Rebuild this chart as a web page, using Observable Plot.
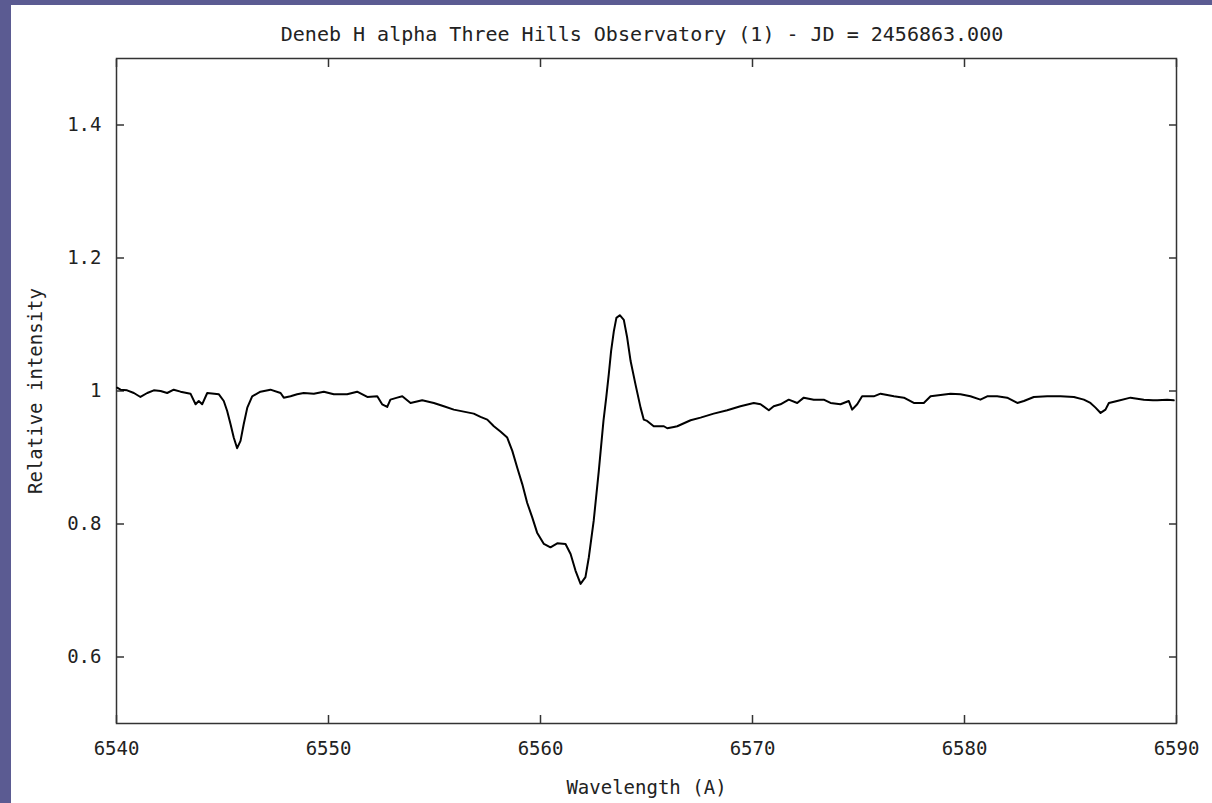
<!DOCTYPE html>
<html>
<head>
<meta charset="utf-8">
<script src="https://cdn.jsdelivr.net/npm/d3@7"></script>
<script src="https://cdn.jsdelivr.net/npm/@observablehq/plot@0.6"></script>
<style>
html,body{margin:0;padding:0;width:1212px;height:803px;overflow:hidden;background:#5b5b92;}
#card{position:absolute;left:11px;top:5px;width:1201px;height:798px;background:#fff;}
#title{position:absolute;left:631px;top:19px;transform:translateX(-50%);white-space:pre;font-family:"DejaVu Sans Mono",monospace;font-size:20px;line-height:20px;color:#222;}
#chart{position:absolute;left:0;top:45px;}
</style>
</head>
<body>
<div id="card">
  <div id="title"></div>
  <div id="chart"></div>
</div>
<script>
const titleText = "Deneb H alpha Three Hills Observatory (1) - JD = 2456863.000";
const xLabel = "Wavelength (A)";
const yLabel = "Relative intensity";
const xTicks = [6540, 6550, 6560, 6570, 6580, 6590];
const yTicks = [0.6, 0.8, 1.0, 1.2, 1.4];

const wavelength = [
 6540.03,6540.19,6540.50,6540.82,6541.13,6541.45,6541.76,6542.08,6542.39,6542.70,
 6543.02,6543.49,6543.73,6543.88,6544.04,6544.28,6544.83,6545.06,6545.22,6545.38,
 6545.53,6545.69,6545.85,6546.00,6546.17,6546.40,6546.79,6547.26,6547.74,6547.89,
 6548.21,6548.52,6548.83,6549.31,6549.78,6550.25,6550.88,6551.35,6551.83,6552.30,
 6552.53,6552.77,6552.92,6553.24,6553.48,6553.87,6554.42,6554.97,6555.44,6555.91,
 6556.38,6556.85,6557.17,6557.49,6557.80,6558.11,6558.43,6558.67,6558.90,6559.14,
 6559.37,6559.61,6559.84,6560.16,6560.47,6560.79,6561.18,6561.42,6561.65,6561.89,
 6562.12,6562.28,6562.51,6562.75,6562.97,6563.10,6563.22,6563.33,6563.46,6563.58,
 6563.74,6563.93,6564.09,6564.25,6564.48,6564.72,6564.87,6565.03,6565.34,6565.82,
 6565.98,6566.29,6566.45,6567.08,6567.55,6568.17,6568.81,6569.43,6570.06,6570.38,
 6570.77,6571.00,6571.32,6571.71,6572.11,6572.42,6572.89,6573.36,6573.68,6574.15,
 6574.54,6574.70,6574.94,6575.17,6575.72,6576.04,6576.67,6577.14,6577.61,6578.08,
 6578.40,6578.87,6579.34,6579.81,6580.28,6580.75,6581.07,6581.54,6582.01,6582.49,
 6582.80,6583.27,6583.90,6584.53,6585.16,6585.63,6585.94,6586.18,6586.42,6586.65,
 6586.81,6587.20,6587.83,6588.46,6588.89,6589.09,6589.56,6589.87
];
const intensity = [
 1.005,1.002,1.001,0.997,0.991,0.997,1.001,1.000,0.997,1.002,
 0.999,0.996,0.980,0.985,0.980,0.997,0.995,0.985,0.970,0.950,
 0.930,0.914,0.925,0.950,0.975,0.992,0.999,1.002,0.997,0.990,
 0.992,0.995,0.997,0.996,0.999,0.995,0.995,0.999,0.991,0.992,
 0.980,0.976,0.987,0.990,0.992,0.982,0.986,0.982,0.977,0.972,
 0.969,0.966,0.961,0.957,0.947,0.939,0.930,0.910,0.885,0.860,
 0.832,0.810,0.787,0.770,0.765,0.771,0.770,0.755,0.730,0.710,
 0.720,0.750,0.805,0.880,0.955,0.990,1.025,1.060,1.090,1.110,
 1.114,1.107,1.080,1.045,1.010,0.975,0.957,0.955,0.947,0.947,
 0.944,0.946,0.947,0.956,0.960,0.966,0.971,0.977,0.982,0.980,
 0.971,0.977,0.980,0.987,0.982,0.990,0.987,0.987,0.982,0.980,
 0.985,0.972,0.980,0.992,0.992,0.996,0.992,0.990,0.982,0.982,
 0.992,0.994,0.996,0.995,0.992,0.987,0.992,0.992,0.990,0.982,
 0.985,0.991,0.992,0.992,0.991,0.987,0.982,0.975,0.967,0.972,
 0.982,0.985,0.990,0.987,0.986,0.986,0.987,0.986
];

const data = wavelength.map((w, i) => ({w, v: intensity[i]}));
document.getElementById("title").textContent = titleText;

const tickStyle = {tickSize: -8, fill: "none", label: null, stroke: "#333", strokeWidth: 1.5};
const chart = Plot.plot({
  width: 1201,
  height: 753,
  marginLeft: 105,
  marginRight: 36,
  marginTop: 8,
  marginBottom: 80,
  x: {domain: [6540, 6590]},
  y: {domain: [0.5, 1.5]},
  style: {fontFamily: "'DejaVu Sans Mono', monospace", fontSize: "19px", color: "#222", background: "transparent"},
  marks: [
    Plot.frame({stroke: "#333", strokeWidth: 1.5}),
    Plot.axisX(xTicks, {anchor: "bottom", ...tickStyle}),
    Plot.axisX(xTicks, {anchor: "top", ...tickStyle}),
    Plot.axisY(yTicks, {anchor: "left", ...tickStyle}),
    Plot.axisY(yTicks, {anchor: "right", ...tickStyle}),
    Plot.axisX(xTicks, {anchor: "bottom", tickSize: 0, tickPadding: 18, tickFormat: d => String(d),
      label: xLabel, labelAnchor: "center", labelArrow: "none", labelOffset: 70}),
    Plot.axisY(yTicks, {anchor: "left", tickSize: 0, tickPadding: 15, tickFormat: d => String(+d.toFixed(1)),
      label: yLabel, labelAnchor: "center", labelArrow: "none", labelOffset: 88}),
    Plot.line(data, {x: "w", y: "v", stroke: "#000", strokeWidth: 2})
  ]
});
document.getElementById("chart").appendChild(chart);
</script>
</body>
</html>
